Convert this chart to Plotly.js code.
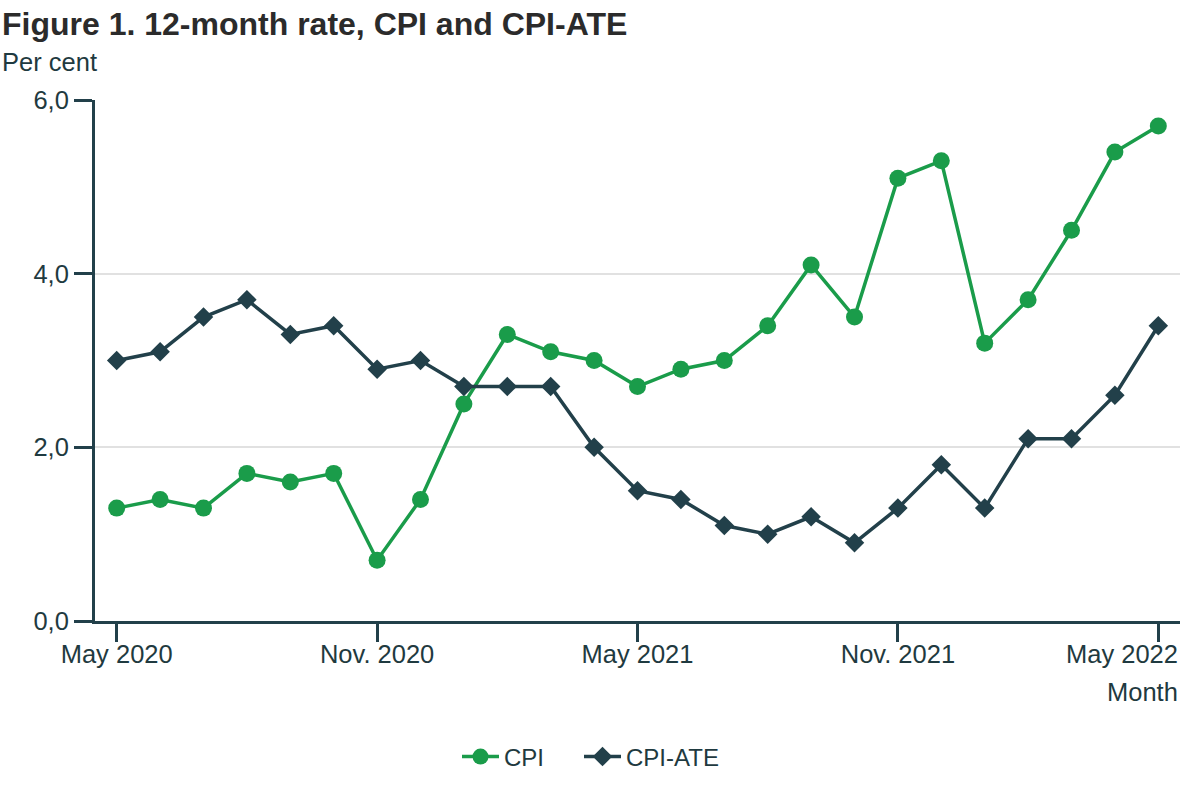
<!DOCTYPE html>
<html>
<head>
<meta charset="utf-8">
<script src="https://cdn.plot.ly/plotly-3.0.1.min.js"></script>
<style>html,body{margin:0;padding:0;background:#fff;}#chart{width:1200px;height:800px;}</style>
</head>
<body>
<div id="chart"></div>
<script>
const months = ["May 2020","Jun. 2020","Jul. 2020","Aug. 2020","Sep. 2020","Oct. 2020","Nov. 2020","Dec. 2020",
  "Jan. 2021","Feb. 2021","Mar. 2021","Apr. 2021","May 2021","Jun. 2021","Jul. 2021","Aug. 2021","Sep. 2021","Oct. 2021","Nov. 2021","Dec. 2021",
  "Jan. 2022","Feb. 2022","Mar. 2022","Apr. 2022","May 2022"];
const cpi = [1.3,1.4,1.3,1.7,1.6,1.7,0.7,1.4,2.5,3.3,3.1,3.0,2.7,2.9,3.0,3.4,4.1,3.5,5.1,5.3,3.2,3.7,4.5,5.4,5.7];
const cpiAte = [3.0,3.1,3.5,3.7,3.3,3.4,2.9,3.0,2.7,2.7,2.7,2.0,1.5,1.4,1.1,1.0,1.2,0.9,1.3,1.8,1.3,2.1,2.1,2.6,3.4];
const tickMonths = ["May 2020","Nov. 2020","May 2021","Nov. 2021","May 2022"];
const tickLabels = ["May 2020","Nov. 2020","May 2021","Nov. 2021",""];
const lastTickLabel = "May 2022";
const yTicks = [0,2,4,6];

const green = "#1a9c4a";
const dark = "#22404a";
const textColor = "#1f3a40";

const traces = [
  {x: months, y: cpi, name: "CPI", type: "scatter", mode: "lines+markers", legend: "legend",
   line: {color: green, width: 3.5}, marker: {symbol: "circle", size: 17, color: green}},
  {x: months, y: cpiAte, name: "CPI-ATE", type: "scatter", mode: "lines+markers", legend: "legend2",
   line: {color: dark, width: 3.5}, marker: {symbol: "diamond", size: 15, color: dark}}
];

const legendBase = {orientation: "h", xanchor: "left", xref: "paper", y: -0.261, yanchor: "middle",
  font: {size: 24, color: textColor}, itemwidth: 37, bgcolor: "rgba(0,0,0,0)"};

const layout = {
  width: 1200, height: 800,
  paper_bgcolor: "#fff", plot_bgcolor: "#fff",
  separators: ", ",
  font: {family: "Liberation Sans, Arial, sans-serif", size: 25.5, color: textColor},
  margin: {l: 95, r: 20, t: 100, b: 179},
  showlegend: true,
  legend: Object.assign({}, legendBase, {x: (457 - 95) / 1085}),
  legend2: Object.assign({}, legendBase, {x: (579 - 95) / 1085}),
  xaxis: {type: "category", range: [-0.5, 24.5], tickmode: "array", tickvals: tickMonths, ticktext: tickLabels,
          showgrid: false, showline: true, linecolor: dark, linewidth: 3,
          ticks: "outside", ticklen: 18, tickwidth: 3, tickcolor: dark, ticklabelstandoff: -10,
          tickfont: {size: 25.5, color: textColor}, zeroline: false, fixedrange: true},
  yaxis: {range: [0, 6], tickmode: "array", tickvals: yTicks, tickformat: ".1f",
          showgrid: true, gridcolor: "#e1e1e1", gridwidth: 2,
          showline: true, linecolor: dark, linewidth: 3,
          ticks: "outside", ticklen: 18, tickwidth: 3, tickcolor: dark,
          tickfont: {size: 25.5, color: textColor}, zeroline: false, fixedrange: true},
  annotations: [
    {text: "<b>Figure 1. 12-month rate, CPI and CPI-ATE</b>", xref: "paper", yref: "paper",
     x: -95/1085, xanchor: "left", y: 1 + 76/521, yanchor: "middle", showarrow: false,
     font: {size: 32, color: "#2b2b2b"}},
    {text: "Per cent", xref: "paper", yref: "paper", x: -95/1085, xanchor: "left",
     y: 1 + 38/521, yanchor: "middle", showarrow: false, font: {size: 25.5, color: textColor}},
    {text: lastTickLabel, xref: "paper", yref: "paper", x: 1.0, xanchor: "right",
     y: -33/521, yanchor: "middle", showarrow: false, font: {size: 25.5, color: textColor}},
    {text: "Month", xref: "paper", yref: "paper", x: 1.0, xanchor: "right",
     y: -71/521, yanchor: "middle", showarrow: false, font: {size: 25.5, color: textColor}}
  ]
};

Plotly.newPlot("chart", traces, layout, {displayModeBar: false, staticPlot: true});
</script>
</body>
</html>
